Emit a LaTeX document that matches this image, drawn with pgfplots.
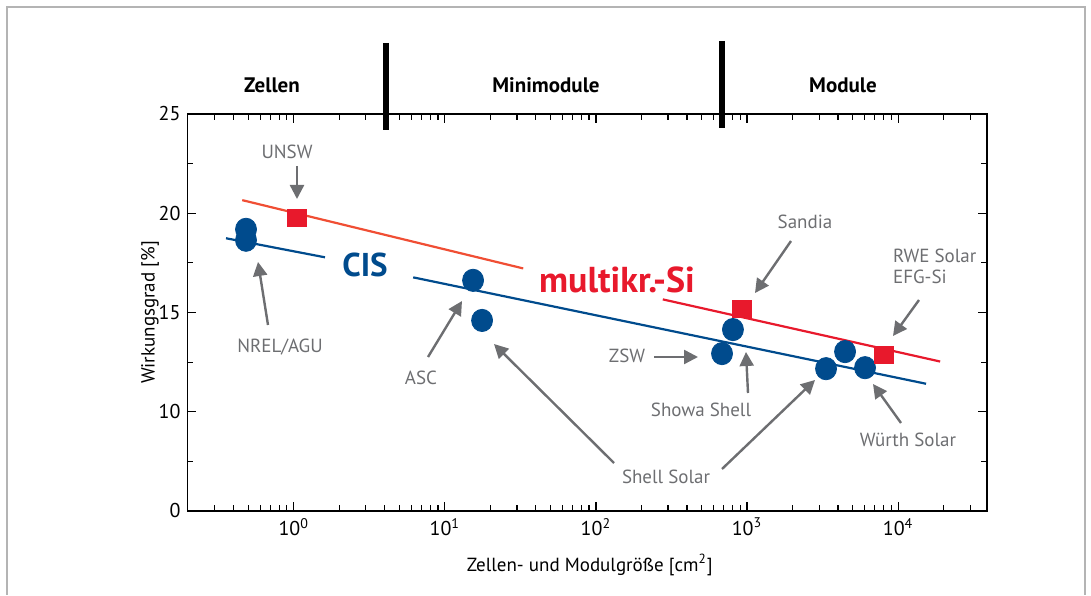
\documentclass[border=0pt]{standalone}
\usepackage{fontspec}
\setmainfont{PT Sans}
\usepackage{pgfplots}
\pgfplotsset{compat=1.18}
\usetikzlibrary{arrows.meta}

\definecolor{cisblue}{RGB}{0,75,141}
\definecolor{sired}{RGB}{232,25,44}
\definecolor{siline}{RGB}{240,78,52}
\definecolor{annogray}{RGB}{109,110,113}
\definecolor{framegray}{RGB}{180,180,180}

\begin{document}
\begin{tikzpicture}
\begin{semilogxaxis}[
  scale only axis, width=399.75pt, height=198.5pt,
  xmin=0.198, xmax=38740, ymin=5, ymax=25,
  xtick={1,10,100,1000,10000},
  xticklabels={10\textsuperscript{0},10\textsuperscript{1},10\textsuperscript{2},10\textsuperscript{3},10\textsuperscript{4}},
  minor xtick={0.3,0.4,0.5,0.6,0.7,0.8,0.9,2,3,4,5,6,7,8,9,20,30,40,50,60,70,80,90,
    200,300,400,500,600,700,800,900,2000,3000,4000,5000,6000,7000,8000,9000,20000,30000},
  ytick={5,10,15,20,25}, yticklabels={0,10,15,20,25},
  minor ytick={7.5,12.5,17.5,22.5},
  axis line style={line width=0.9pt},
  every tick/.style={black, line width=0.6pt},
  tick label style={font=\fontsize{10}{12}\selectfont},
  label style={font=\fontsize{9.5}{11}\selectfont},
  xlabel={Zellen- und Modulgröße [cm\textsuperscript{2}]},
  ylabel={Wirkungsgrad [\%]},
  xlabel style={at={(axis description cs:0.503,-0.136)}, anchor=center},
  ylabel style={at={(axis description cs:-0.047,0.5)}, anchor=center},
]
% trend lines
\addplot[cisblue, line width=1.1pt] coordinates {(0.356,18.74) (1.61,17.78)};
\addplot[cisblue, line width=1.1pt] coordinates {(6.17,16.77) (15300,11.41)};
\addplot[siline, line width=1.1pt] coordinates {(0.456,20.66) (33,17.22)};
\addplot[sired, line width=1.1pt] coordinates {(277,15.66) (18970,12.53)};
% CIS
\addplot[only marks, mark=*, mark size=5.25pt, cisblue, mark options={yscale=1.06}] coordinates {
  (0.483,19.19) (0.483,18.64) (15.37,16.62) (17.63,14.60) (806.6,14.14)
  (683,12.93) (3333,12.17) (4453,13.03) (6038,12.22)};
% multikristallines Si
\addplot[only marks, mark=square*, mark size=4.3pt, sired, mark options={xscale=1.12}] coordinates {
  (1.05,19.75) (926.6,15.20) (8066,12.88)};
\end{semilogxaxis}

% Beschriftungen in Pixelkoordinaten der Vorlage
\begin{scope}[x=0.5pt, y=-0.5pt, shift={(-93.75pt,255.5pt)}]
\path (0,0) rectangle (1091,595);
\draw[framegray, line width=0.75pt] (7,595) -- (7,7) -- (1085,7) -- (1085,595);
\draw[black, line width=3pt] (386,43) -- (386,130);
\draw[black, line width=3pt] (721.5,41) -- (721.5,128);
\begin{scope}[font=\fontsize{10.5}{12}\selectfont\bfseries]
\node at (272,85) {Zellen};
\node at (546,85) {Minimodule};
\node at (843,85) {Module};
\end{scope}
\node[cisblue, font=\fontsize{16.5}{18}\selectfont\bfseries] at (365,265) {CIS};
\node[sired, font=\fontsize{18}{20}\selectfont\bfseries] at (617,280) {multikr.-Si};
\begin{scope}[annogray, font=\fontsize{9.5}{11}\selectfont]
\node at (287,152) {UNSW};
\node at (280,347) {NREL/AGU};
\node at (421,378) {ASC};
\node at (666,477) {Shell Solar};
\node at (627,356) {ZSW};
\node at (701,410) {Showa Shell};
\node at (805,222) {Sandia};
\node[anchor=west] at (886,256) {RWE Solar};
\node[anchor=west] at (886,277) {EFG-Si};
\node at (908,440) {Würth Solar};
\end{scope}
\begin{scope}[annogray, line width=1.2pt, -{Triangle[length=7pt,width=7pt]}]
\draw (297,166) -- (297,199);
\draw (268,325) -- (258,262);
\draw (428,357) -- (462,301);
\draw (614,463) -- (494,344);
\draw (722,469) -- (815,380);
\draw (654,357) -- (698,357);
\draw (748,393) -- (746,352);
\draw (791,241) -- (755,293);
\draw (919,300) -- (893,336);
\draw (901,423) -- (873,384);
\end{scope}
\end{scope}
\end{tikzpicture}
\end{document}
